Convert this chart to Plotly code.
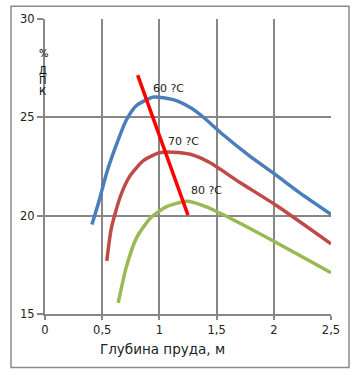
import plotly.graph_objects as go

# Data
blue_x = [0.41, 0.47, 0.54, 0.63, 0.71, 0.80, 0.95, 1.12, 1.27, 1.38, 1.56, 1.79, 2.0, 2.23, 2.5]
blue_y = [19.55, 20.7, 22.2, 23.7, 24.85, 25.6, 26.03, 25.9, 25.5, 25.03, 24.1, 23.03, 22.15, 21.15, 20.07]
red_x = [0.54, 0.58, 0.66, 0.74, 0.86, 1.0, 1.12, 1.27, 1.44, 1.70, 2.02, 2.5]
red_y = [17.7, 19.37, 21.0, 22.0, 22.8, 23.2, 23.23, 23.12, 22.7, 21.7, 20.53, 18.57]
green_x = [0.64, 0.71, 0.80, 0.92, 1.06, 1.24, 1.41, 1.62, 2.0, 2.26, 2.5]
green_y = [15.57, 17.37, 18.87, 19.87, 20.45, 20.73, 20.45, 19.87, 18.7, 17.87, 17.1]
opt_x = [0.81, 1.25]
opt_y = [27.15, 20.03]
labels = ["60 ?C", "70 ?C", "80 ?C"]
label_x = [1.08, 1.21, 1.41]
label_y = [26.45, 23.75, 21.3]
x_ticks = [0, 0.5, 1, 1.5, 2, 2.5]
x_tick_text = ["0", "0,5", "1", "1,5", "2", "2,5"]
y_ticks = [15, 20, 25, 30]
x_title = "Глубина пруда, м"
y_title_chars = ["%", "Д", "П", "К"]

L, T, R, B = 45, 16, 26, 63
W, H = 357, 377
PW = W - L - R
PH = H - T - B

fig = go.Figure()
for xs, ys, col in [(blue_x, blue_y, "#4A7EBB"), (red_x, red_y, "#BE4B48"), (green_x, green_y, "#98B954")]:
    fig.add_trace(go.Scatter(x=xs, y=ys, mode="lines",
                             line=dict(color=col, width=3.5, shape="spline", smoothing=0.6),
                             showlegend=False, hoverinfo="skip"))
fig.add_trace(go.Scatter(x=opt_x, y=opt_y, mode="lines", line=dict(color="#FF0000", width=3.5),
                         showlegend=False, hoverinfo="skip"))

for t, x, y in zip(labels, label_x, label_y):
    fig.add_annotation(x=x, y=y, text=t, showarrow=False, xref="x", yref="y",
                       font=dict(family="DejaVu Sans", size=11, color="#222"))

# stacked y title characters
ypos_px = [43, 60, 71, 82]
for ch, py in zip(y_title_chars, ypos_px):
    fig.add_annotation(x=(37 - L) / PW, y=(H - B - py) / PH, xref="paper", yref="paper",
                       text=ch, showarrow=False,
                       font=dict(family="DejaVu Sans", size=10, color="#111"))

fig.add_annotation(x=(162 - L) / PW, y=(H - B - 359) / PH, xref="paper", yref="paper",
                   text=x_title, showarrow=False,
                   font=dict(family="DejaVu Sans", size=13.5, color="#222"))

# outer frame
fig.add_shape(type="rect", xref="paper", yref="paper",
              x0=(11 - L) / PW, x1=(349 - L) / PW,
              y0=(H - B - 368) / PH, y1=(H - B - 3) / PH,
              line=dict(color="#8C8C8C", width=1.5))

fig.update_xaxes(range=[0, 2.5], tickvals=x_ticks, ticktext=x_tick_text,
                 showgrid=True, gridcolor="#878787", gridwidth=2,
                 showline=True, linecolor="#878787", linewidth=2,
                 ticks="outside", ticklen=4, tickcolor="#878787", tickwidth=2,
                 zeroline=False, tickfont=dict(family="DejaVu Sans", size=11.5, color="#222"))
fig.update_yaxes(range=[15, 30], tickvals=y_ticks,
                 showgrid=True, gridcolor="#878787", gridwidth=2,
                 showline=True, linecolor="#878787", linewidth=2,
                 ticks="outside", ticklen=6, tickcolor="#878787", tickwidth=2,
                 zeroline=False, tickfont=dict(family="DejaVu Sans", size=11.5, color="#222"))

fig.update_layout(width=W, height=H, margin=dict(l=L, r=R, t=T, b=B),
                  paper_bgcolor="white", plot_bgcolor="white")
fig.write_html("out.html", config={"displayModeBar": False, "staticPlot": True},
               post_script="document.body.style.margin='0';document.body.style.overflow='hidden';")
